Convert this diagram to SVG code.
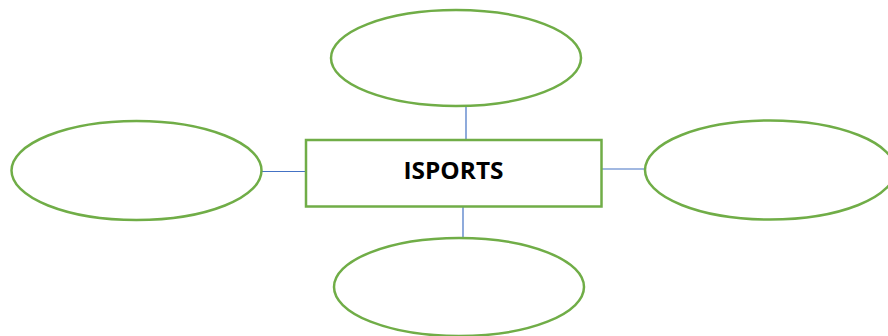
<svg xmlns="http://www.w3.org/2000/svg" width="888" height="336" viewBox="0 0 888 336">
<style>
.node{fill:#FFFFFF;stroke:#70AD47;stroke-width:2.5}
.conn{stroke:#4472C4;stroke-width:1.2;fill:none}
.label{font-family:"Open Sans","Liberation Sans",sans-serif;font-weight:bold;font-size:23px;fill:#000000}
</style>
<rect width="888" height="336" fill="#FFFFFF"/>
<g id="connectors">
<line class="conn" x1="466" y1="106" x2="466" y2="140"/>
<line class="conn" x1="463" y1="207" x2="463" y2="238"/>
<line class="conn" x1="261" y1="171.5" x2="306" y2="171.5"/>
<line class="conn" x1="601" y1="169" x2="645" y2="169"/>
</g>
<g id="node-top"><ellipse class="node" cx="456" cy="58" rx="125" ry="48"/></g>
<g id="node-left"><ellipse class="node" cx="136.5" cy="170.5" rx="125" ry="49.5"/></g>
<g id="node-right"><ellipse class="node" cx="770" cy="170" rx="125" ry="49.5"/></g>
<g id="node-bottom"><ellipse class="node" cx="459" cy="287" rx="125" ry="49"/></g>
<g id="node-center">
<rect class="node" x="306" y="140" width="295.5" height="66.5"/>
<text class="label" x="453.5" y="179" text-anchor="middle" textLength="100" lengthAdjust="spacingAndGlyphs">ISPORTS</text>
</g>
</svg>
